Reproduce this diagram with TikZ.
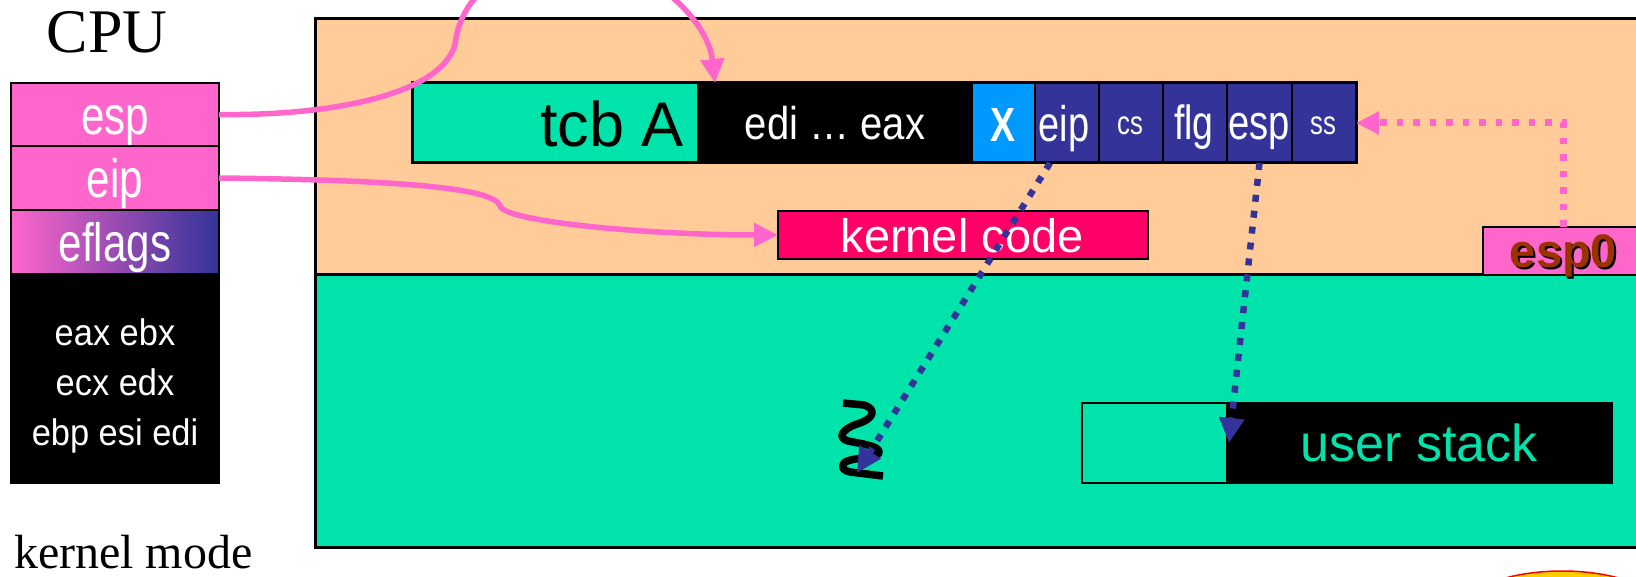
\documentclass[tikz,border=0pt]{standalone}
\usepackage{fontspec}
\usepackage{graphicx}
\setmainfont{Liberation Sans}
\newfontfamily\timesfont{Liberation Serif}
\usetikzlibrary{arrows.meta,calc}
\definecolor{cpink}{HTML}{FF66CC}
\definecolor{cpeach}{HTML}{FFCC99}
\definecolor{cgreen}{HTML}{00E3AA}
\definecolor{cnavy}{HTML}{333399}
\definecolor{cblue}{HTML}{0099FF}
\definecolor{ckcode}{HTML}{FF0066}
\definecolor{cbrown}{HTML}{993300}
\definecolor{cyellow}{HTML}{FFCC00}
\newcommand\fsz[1]{\fontsize{#1}{#1}\selectfont}
\newcommand\narrow[2]{\scalebox{#1}[1]{#2}}
\begin{document}
\begin{tikzpicture}[x=1pt, y=-1pt,
  blk/.style={rectangle, inner sep=0pt, outer sep=0pt, anchor=north west, draw=black, line width=2.5pt},
  txt/.style={inner sep=0pt, outer sep=0pt, anchor=base},
  wtxt/.style={txt, text=white},
  pinkline/.style={draw=cpink, line width=5.5pt, -{Triangle[length=24pt,width=23pt]}},
  bluedot/.style={draw=cnavy, line width=6.5pt, dash pattern=on 7pt off 9pt, -{Triangle[length=25pt,width=24pt]}},
  pinkdot/.style={draw=cpink, line width=7pt, dash pattern=on 6.5pt off 10pt, -{Triangle[length=23pt,width=22pt]}}]

\useasboundingbox (0,0) rectangle (1636,577);
\clip (0,0) rectangle (1636,577);
\fill[white] (0,0) rectangle (1636,577);

% address space: kernel part above, user part below
\node[blk, line width=3pt, fill=cpeach, minimum width=1335pt, minimum height=256pt] (kspace) at (315,19) {};
\node[blk, line width=3pt, fill=cgreen, minimum width=1335pt, minimum height=272pt] (uspace) at (315,275) {};

% CPU registers
\node[txt, font=\timesfont\fsz{62}] (cputitle) at (107,53) {CPU};
\node[blk, fill=cpink, minimum width=208pt, minimum height=63pt] (cpuesp) at (11,83) {};
\node[blk, fill=cpink, minimum width=208pt, minimum height=64pt] (cpueip) at (11,146) {};
\node[blk, left color=cpink, right color=cnavy, minimum width=208pt, minimum height=64pt] (cpuflags) at (11,210) {};
\node[blk, fill=black, minimum width=208pt, minimum height=209pt] (cpuregs) at (11,274) {};
\node[wtxt, font=\fsz{54}] (lblesp) at (115,135) {\narrow{0.78}{esp}};
\node[wtxt, font=\fsz{54}] (lbleip) at (115,198) {\narrow{0.78}{eip}};
\node[wtxt, font=\fsz{54}] (lblflags) at (115,262) {\narrow{0.78}{eflags}};
\node[wtxt, font=\fsz{37}] (lblr1) at (115,345) {\narrow{0.93}{eax ebx}};
\node[wtxt, font=\fsz{37}] (lblr2) at (115,395) {\narrow{0.93}{ecx edx}};
\node[wtxt, font=\fsz{37}] (lblr3) at (115,445) {\narrow{0.93}{ebp esi edi}};
\node[txt, anchor=base west, font=\timesfont\fsz{48}] (modelbl) at (14,568) {kernel mode};

% thread control block with the saved registers
\node[blk, fill=cgreen, minimum width=286pt, minimum height=80pt] (tcbA) at (412,83) {};
\node[blk, fill=black, minimum width=274pt, minimum height=80pt] (tcbregs) at (698,83) {};
\node[blk, fill=cblue, minimum width=63pt, minimum height=80pt] (cellx) at (972,83) {};
\node[blk, fill=cnavy, minimum width=64pt, minimum height=80pt] (celleip) at (1035,83) {};
\node[blk, fill=cnavy, minimum width=64pt, minimum height=80pt] (cellcs) at (1099,83) {};
\node[blk, fill=cnavy, minimum width=64pt, minimum height=80pt] (cellflg) at (1163,83) {};
\node[blk, fill=cnavy, minimum width=65pt, minimum height=80pt] (cellesp) at (1227,83) {};
\node[blk, fill=cnavy, minimum width=64pt, minimum height=80pt] (cellss) at (1292,83) {};
\draw[line width=3pt] (tcbA.north west) rectangle (cellss.south east);
\node[txt, anchor=base east, font=\fsz{63}] (lbltcb) at (684,147) {tcb A};
\node[wtxt, font=\fsz{46}] (lblsave) at (835,140) {\narrow{0.87}{edi … eax}};
\node[wtxt, font=\bfseries\fsz{48}] (lblx) at (1003,141.7) {\narrow{0.78}{X}};
\node[wtxt, font=\fsz{50}] (lblceip) at (1064,141.7) {\narrow{0.76}{eip}};
\node[wtxt, font=\fsz{33}] (lblccs) at (1130,135) {\narrow{0.78}{cs}};
\node[wtxt, font=\fsz{48}] (lblcflg) at (1194,140) {\narrow{0.78}{flg}};
\node[wtxt, font=\fsz{49}] (lblcesp) at (1259,140) {\narrow{0.78}{esp}};
\node[wtxt, font=\fsz{33}] (lblcss) at (1323,135) {\narrow{0.78}{ss}};

% kernel code and kernel stack pointer
\node[blk, fill=ckcode, minimum width=370pt, minimum height=48pt] (kcode) at (778,211) {};
\node[wtxt, font=\fsz{47}] (lblkcode) at (962,253) {kernel code};
\node[blk, fill=cpink, minimum width=160pt, minimum height=48pt] (esp0) at (1483,227) {};
\node[txt, text=black, font=\bfseries\fsz{47}] (lblesp0s) at (1565.5,270) {esp0};
\node[txt, text=cbrown, font=\bfseries\fsz{47}] (lblesp0) at (1563.5,268) {esp0};

% user stack
\node[blk, fill=cgreen, minimum width=145pt, minimum height=80pt] (ufree) at (1082,403) {};
\node[blk, fill=black, minimum width=385pt, minimum height=80pt] (ustack) at (1227,403) {};
\node[txt, text=cgreen, font=\fsz{52}] (lblustack) at (1419,461) {user stack};

% wavy break mark in user space
\draw[line width=7.5pt, line join=round] (843,403) -- (864,405)
  .. controls (877,409) and (874,419) .. (857,424)
  .. controls (842,429) and (837,438) .. (848,441)
  .. controls (862,444) and (881,446) .. (879,453)
  .. controls (877,459) and (850,457) .. (844,463)
  .. controls (840,468) and (845,471) .. (850,472) -- (883,476);
\coordinate (squigtip) at (857,473);

% button at the lower right corner
\draw[draw=red, fill=cyellow, line width=1.5pt] (1562,611) ellipse [x radius=100pt, y radius=40pt];

% connectors
\draw[pinkline] (cpuesp.east) .. controls (330,116) and (440,95) .. (455,45)
  .. controls (462,-20) and (530,-45) .. (590,-40)
  .. controls (650,-35) and (708,20) .. ($(tcbregs.north west)+(17,0)$);
\draw[pinkline] (cpueip.east) .. controls (400,180) and (495,188) .. (500,206)
  .. controls (505,222) and (650,235) .. (kcode.west);
\draw[bluedot] ($(celleip.south)+(-17,0)$) -- (squigtip);
\draw[bluedot] (cellesp.south) -- ($(ustack.west)+(2,0)$);
\draw[pinkdot] (esp0.north) |- (cellss.east);
\end{tikzpicture}
\end{document}
